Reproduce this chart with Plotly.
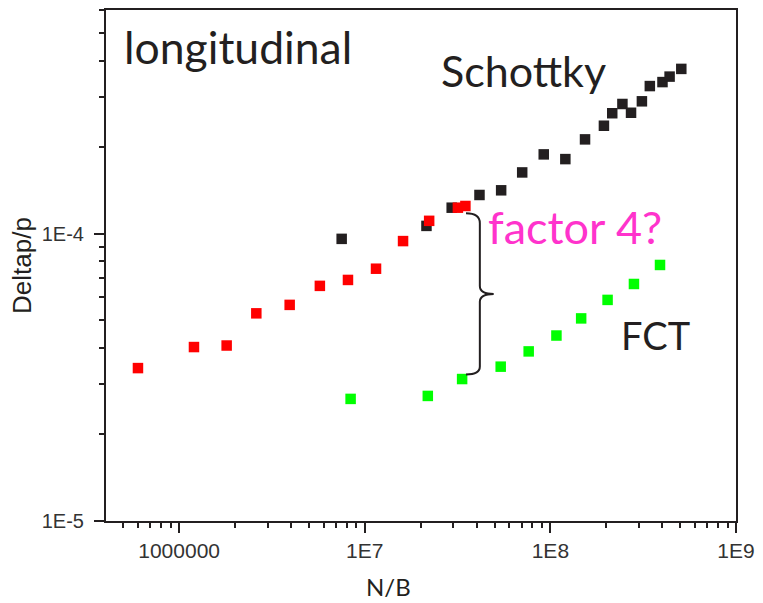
import plotly.graph_objects as go

# ---- data ----
schottky_x = [7.51e6, 2.15e7, 2.94e7, 4.15e7, 5.43e7, 7.05e7, 9.21e7, 1.204e8, 1.537e8,
              1.943e8, 2.154e8, 2.444e8, 2.720e8, 3.112e8, 3.434e8, 4.017e8, 4.388e8, 5.073e8]
schottky_y = [9.59e-5, 1.064e-4, 1.231e-4, 1.363e-4, 1.415e-4, 1.633e-4, 1.887e-4, 1.817e-4, 2.128e-4,
              2.374e-4, 2.624e-4, 2.826e-4, 2.634e-4, 2.887e-4, 3.262e-4, 3.368e-4, 3.519e-4, 3.743e-4]

red_x = [6.0e5, 1.202e6, 1.803e6, 2.605e6, 3.94e6, 5.73e6, 8.12e6, 1.150e7, 1.608e7,
         2.223e7, 3.175e7, 3.485e7]
red_y = [3.405e-5, 4.03e-5, 4.08e-5, 5.28e-5, 5.65e-5, 6.58e-5, 6.90e-5, 7.55e-5, 9.42e-5,
         1.108e-4, 1.231e-4, 1.248e-4]

fct_x = [8.39e6, 2.186e7, 3.346e7, 5.40e7, 7.64e7, 1.078e8, 1.465e8, 2.033e8, 2.82e8, 3.896e8]
fct_y = [2.66e-5, 2.724e-5, 3.119e-5, 3.444e-5, 3.892e-5, 4.42e-5, 5.07e-5, 5.88e-5, 6.68e-5, 7.78e-5]

x_tickvals = [1e6, 1e7, 1e8, 1e9]
x_ticktext = ["1000000", "1E7", "1E8", "1E9"]
y_tickvals = [1e-5, 1e-4]
y_ticktext = ["1E-5", "1E-4"]

x_minor = [m * 10 ** e for e in range(5, 9) for m in range(2, 10)]
y_minor = [m * 10.0 ** e for e in range(-5, -3) for m in range(2, 10)]

# ---- layout geometry ----
W, H = 763, 603
L, R, T, B = 106, 20, 8, 82
PW, PH = W - L - R, H - T - B


def px(xp):
    return (xp - L) / PW


def py(yp):
    return (H - B - yp) / PH


fig = go.Figure()
marker_common = dict(symbol="square", size=10.5, line=dict(width=0))
fig.add_trace(go.Scatter(x=schottky_x, y=schottky_y, mode="markers",
                         marker=dict(color="#231f20", **marker_common), name="Schottky"))
fig.add_trace(go.Scatter(x=red_x, y=red_y, mode="markers",
                         marker=dict(color="#ff0000", **marker_common), name="red"))
fig.add_trace(go.Scatter(x=fct_x, y=fct_y, mode="markers",
                         marker=dict(color="#00ff00", **marker_common), name="FCT"))

common_axis = dict(
    type="log", showgrid=False, zeroline=False, showline=True, linecolor="#231f20",
    linewidth=2, mirror=True, ticks="outside", ticklen=10, tickwidth=1.5, tickcolor="#231f20",
    tickmode="array",
)
fig.update_xaxes(range=[5.606, 9.0], tickvals=x_tickvals, ticktext=x_ticktext,
                 tickfont=dict(family="Liberation Sans, Arial, sans-serif", size=21, color="#333333"),
                 minor=dict(ticks="outside", ticklen=5, tickwidth=1.5, tickcolor="#231f20",
                            tickmode="array", tickvals=x_minor, showgrid=False),
                 **common_axis)
fig.update_yaxes(range=[-5.0, -3.2218], tickvals=y_tickvals, ticktext=y_ticktext,
                 tickfont=dict(family="Liberation Sans, Arial, sans-serif", size=20, color="#333333"),
                 ticklabelstandoff=6,
                 minor=dict(ticks="outside", ticklen=5, tickwidth=1.5, tickcolor="#231f20",
                            tickmode="array", tickvals=y_minor, showgrid=False),
                 **common_axis)

label_font = "Lato, Carlito, sans-serif"
annos = [
    dict(text="longitudinal", x=px(239), y=py(45), size=44.5, color="#231f20"),
    dict(text="Schottky", x=px(528.5), y=py(69), size=43, color="#231f20"),
    dict(text="FCT", x=px(661.5), y=py(334), size=38, color="#231f20"),
    dict(text="factor 4?", x=px(580), y=py(226), size=45, color="#ff33cc"),
    dict(text="N/B", x=px(391.5), y=py(587), size=24, color="#231f20"),
]
for a in annos:
    fig.add_annotation(text=a["text"], x=a["x"], y=a["y"], xref="paper", yref="paper",
                       xanchor="center", yanchor="middle", showarrow=False,
                       font=dict(family=label_font, size=a["size"], color=a["color"]))

fig.add_annotation(text="Deltap/p", x=px(21), y=py(264), xref="paper", yref="paper",
                   xanchor="center", yanchor="middle", showarrow=False, textangle=-90,
                   font=dict(family="Liberation Sans, Arial, sans-serif", size=26, color="#231f20"))

# curly brace
pts = [(470, 212), (484, 212), (484, 222), (484, 285), (484, 293), (498, 293),
       (484, 293), (484, 301), (484, 366), (484, 374), (470, 374)]
p = [(px(a), py(b)) for a, b in pts]
path = (f"M {p[0][0]},{p[0][1]} Q {p[1][0]},{p[1][1]} {p[2][0]},{p[2][1]} "
        f"L {p[3][0]},{p[3][1]} Q {p[4][0]},{p[4][1]} {p[5][0]},{p[5][1]} "
        f"Q {p[6][0]},{p[6][1]} {p[7][0]},{p[7][1]} L {p[8][0]},{p[8][1]} "
        f"Q {p[9][0]},{p[9][1]} {p[10][0]},{p[10][1]}")
fig.add_shape(type="path", path=path, xref="paper", yref="paper",
              line=dict(color="#231f20", width=2))

fig.update_layout(
    width=W, height=H, margin=dict(l=L, r=R, t=T, b=B),
    plot_bgcolor="white", paper_bgcolor="white", showlegend=False,
)

fig.write_html("out.html")
